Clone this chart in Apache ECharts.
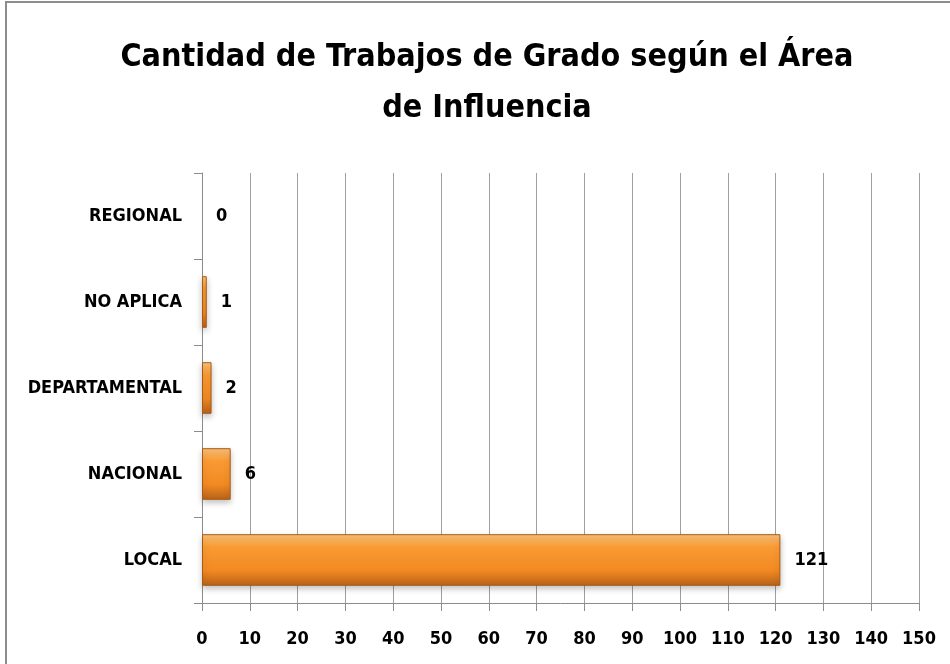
<!DOCTYPE html>
<html>
<head>
<meta charset="utf-8">
<title>Cantidad de Trabajos de Grado</title>
<script src="https://cdn.jsdelivr.net/npm/echarts@6/dist/echarts.min.js"></script>
<style>
    html, body { margin: 0; padding: 0; background: #fff; }
    #main { width: 950px; height: 664px; }
</style>
</head>
<body>
<div id="main"></div>
<script>
// datos (de abajo hacia arriba)
var categorias = ['LOCAL', 'NACIONAL', 'DEPARTAMENTAL', 'NO APLICA', 'REGIONAL'];
var trabajos = [121, 6, 2, 1, 0];
var titulo = 'Cantidad de Trabajos de Grado según el Área\nde Influencia';

var fuente = '"DejaVu Sans Condensed", "Open Sans", sans-serif';

var chart = echarts.init(document.getElementById('main'));

var barColor = new echarts.graphic.LinearGradient(0, 0, 0, 1, [
    { offset: 0, color: '#fbc27a' },
    { offset: 0.25, color: '#f99a33' },
    { offset: 0.7, color: '#f28a22' },
    { offset: 1, color: '#b8621a' }
]);

// la barra en cero no se dibuja con borde
var barData = trabajos.map(function (v) {
    return v === 0 ? { value: v, itemStyle: { borderWidth: 0, shadowBlur: 0 } } : v;
});

var option = {
    backgroundColor: '#ffffff',
    animation: false,
    title: {
        text: titulo,
        left: 482,
        top: 27,
        textAlign: 'center',
        textStyle: {
            fontFamily: fuente,
            fontSize: 32,
            fontWeight: 'bold',
            color: '#000',
            lineHeight: 51
        }
    },
    graphic: [{
        type: 'rect',
        shape: { x: 6, y: 2, width: 1000, height: 1000 },
        style: { fill: 'none', stroke: '#8c8c8c', lineWidth: 2 },
        z: 100
    }],
    grid: {
        left: 202,
        right: 31,
        top: 173,
        bottom: 61
    },
    xAxis: {
        type: 'value',
        min: 0,
        max: 150,
        interval: 10,
        axisLine: { show: true, lineStyle: { color: '#8c8c8c', width: 1 } },
        axisTick: { show: true, length: 8, lineStyle: { color: '#8c8c8c' } },
        axisLabel: {
            margin: 27,
            color: '#000',
            fontFamily: fuente,
            fontSize: 18,
            fontWeight: 'bold'
        },
        splitLine: { show: true, lineStyle: { color: '#a0a0a0', width: 1 } }
    },
    yAxis: {
        type: 'category',
        data: categorias,
        axisLine: { show: true, lineStyle: { color: '#8c8c8c', width: 1 } },
        axisTick: { show: true, length: 8, lineStyle: { color: '#8c8c8c' } },
        axisLabel: {
            margin: 20,
            color: '#000',
            fontFamily: fuente,
            fontSize: 18,
            fontWeight: 'bold'
        }
    },
    series: [{
        name: 'Trabajos',
        type: 'bar',
        data: barData,
        barWidth: '60%',
        itemStyle: {
            color: barColor,
            borderColor: '#a85a14',
            borderWidth: 1,
            shadowColor: 'rgba(0,0,0,0.25)',
            shadowBlur: 6,
            shadowOffsetY: 3
        },
        label: {
            show: true,
            position: 'right',
            distance: 14,
            color: '#000',
            fontFamily: fuente,
            fontSize: 18,
            fontWeight: 'bold'
        }
    }]
};

chart.setOption(option);
</script>
</body>
</html>
